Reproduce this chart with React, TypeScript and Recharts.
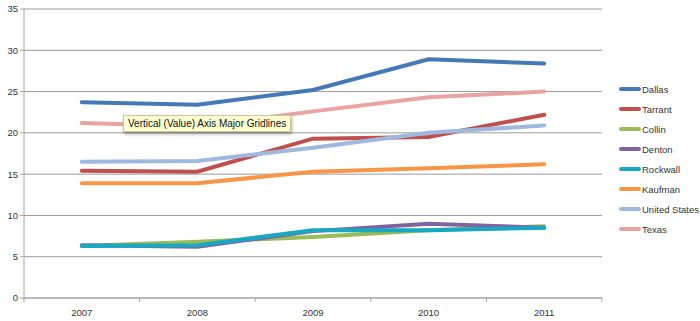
import type React from 'react';
import { LineChart, Line, XAxis, YAxis, CartesianGrid } from 'recharts';

const years = ['2007', '2008', '2009', '2010', '2011'];

const dallas = [23.7, 23.4, 25.2, 28.9, 28.4];
const tarrant = [15.4, 15.3, 19.3, 19.5, 22.2];
const collin = [6.3, 6.8, 7.4, 8.2, 8.7];
const denton = [6.4, 6.2, 8.1, 9.0, 8.5];
const rockwall = [6.3, 6.4, 8.2, 8.2, 8.5];
const kaufman = [13.9, 13.9, 15.3, 15.7, 16.2];
const unitedStates = [16.5, 16.6, 18.2, 20.0, 20.9];
const texas = [21.2, 20.8, 22.6, 24.3, 25.0];

const yTicks = [0, 5, 10, 15, 20, 25, 30, 35];

const series = [
  { key: 'Dallas', values: dallas, color: '#4479b6' },
  { key: 'Tarrant', values: tarrant, color: '#c0504d' },
  { key: 'Collin', values: collin, color: '#9bbb59' },
  { key: 'Denton', values: denton, color: '#8064a2' },
  { key: 'Rockwall', values: rockwall, color: '#17a9c4' },
  { key: 'Kaufman', values: kaufman, color: '#f79646' },
  { key: 'United States', values: unitedStates, color: '#9fb8dd' },
  { key: 'Texas', values: texas, color: '#e8a3a2' },
];

const chartData = years.map((year, i) => {
  const row: Record<string, string | number> = { year };
  series.forEach((s) => {
    row[s.key] = s.values[i];
  });
  return row;
});

const CHART_W = 700;
const CHART_H = 321;
const MARGIN = { top: 9, right: 98, bottom: 0, left: 0 };
const Y_AXIS_W = 24;
const halfBand = (CHART_W - MARGIN.right - Y_AXIS_W) / years.length / 2;

const font = '"Liberation Sans", Arial, sans-serif';

// tick marks sit between categories, like the Excel original
const YearTick = (props: any) => {
  const { x, y, payload, index } = props;
  const last = index === years.length - 1;
  const top = y - 8;
  return (
    <g>
      <line x1={x - halfBand} x2={x - halfBand} y1={top} y2={top + 4} stroke="#a6a6a6" />
      {last && <line x1={x + halfBand} x2={x + halfBand} y1={top} y2={top + 4} stroke="#a6a6a6" />}
      <text x={x} y={y + 9.5} textAnchor="middle" fontSize={9.5} fill="#333" fontFamily={font}>
        {payload.value}
      </text>
    </g>
  );
};

const LegendBox = () => (
  <div style={{ position: 'absolute', left: 619, top: 79, fontFamily: font, fontSize: 9.5, color: '#333' }}>
    {series.map((s) => (
      <div key={s.key} style={{ display: 'flex', alignItems: 'center', height: 20 }}>
        <span style={{ display: 'inline-block', width: 22, height: 4, borderRadius: 2, background: s.color }} />
        <span style={{ marginLeft: 1 }}>{s.key}</span>
      </div>
    ))}
  </div>
);

const App: React.FC = () => {
  return (
    <div style={{ position: 'absolute', left: 0, top: 0, width: CHART_W, height: CHART_H, background: '#fff' }}>
      <LineChart width={CHART_W} height={CHART_H} data={chartData} margin={MARGIN}>
        <CartesianGrid vertical={false} stroke="#9a9a9a" />
        <XAxis
          dataKey="year"
          height={23}
          padding={{ left: halfBand, right: halfBand }}
          axisLine={{ stroke: '#a6a6a6' }}
          tickLine={false}
          tick={<YearTick />}
          interval={0}
        />
        <YAxis
          width={Y_AXIS_W}
          domain={[0, 35]}
          ticks={yTicks}
          interval={0}
          axisLine={{ stroke: '#a6a6a6' }}
          tickLine={{ stroke: '#a6a6a6' }}
          tickSize={4}
          tick={{ fontSize: 9.5, fill: '#333', fontFamily: font }}
        />
        {series.map((s) => (
          <Line
            key={s.key}
            type="linear"
            dataKey={s.key}
            stroke={s.color}
            strokeWidth={4}
            strokeLinecap="round"
            dot={false}
            activeDot={false}
            isAnimationActive={false}
          />
        ))}
      </LineChart>
      <LegendBox />
      <div
        style={{
          position: 'absolute',
          left: 123,
          top: 115,
          height: 15,
          padding: '0 4px',
          background: '#ffffd0',
          border: '1px solid #c8c8a0',
          boxShadow: '1px 2px 3px rgba(0,0,0,0.35)',
          fontFamily: font,
          fontSize: 10,
          lineHeight: '15px',
          color: '#111',
          whiteSpace: 'nowrap',
        }}
      >
        Vertical (Value) Axis Major Gridlines
      </div>
    </div>
  );
};

export default App;
